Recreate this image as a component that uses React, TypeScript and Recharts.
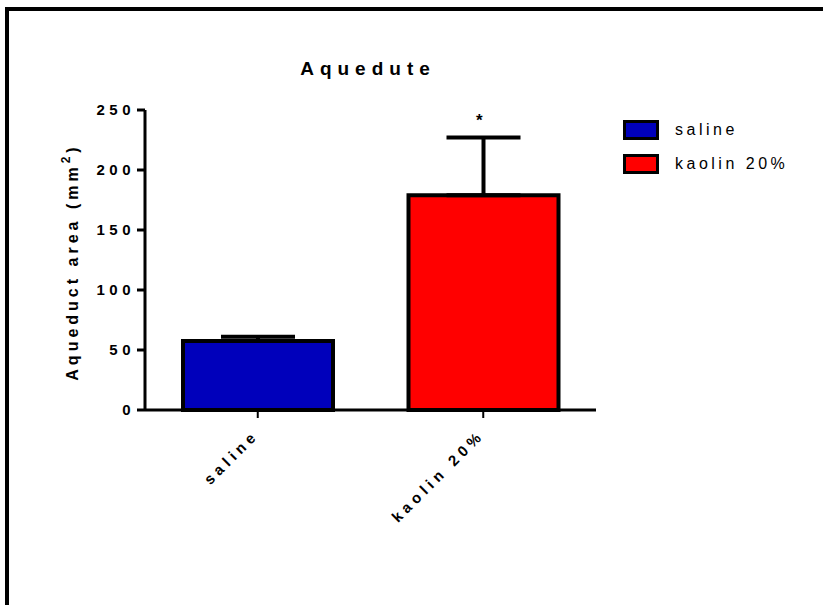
import React from 'react';
import { BarChart, Bar, XAxis, YAxis, Cell, ErrorBar, Legend, ReferenceDot } from 'recharts';

const categories = ['saline', 'kaolin 20%'];
const means = [57.5, 179];
const sems = [3.5, 48];
const significance = ['', '*'];
const colors = ['#0000BB', '#FF0000'];
const yTicks = [0, 50, 100, 150, 200, 250];
const title = 'Aquedute';

const data = categories.map((c, i) => ({
  name: c,
  value: means[i],
  err: [0, sems[i]],
  top: means[i] + sems[i],
  sig: significance[i],
}));

const FONT = 'Liberation Sans, Arial, sans-serif';

const YTick = (props: any) => {
  const { x, y, payload } = props;
  return (
    <text x={x} y={y} dy={5} textAnchor="end" fontFamily={FONT} fontWeight="bold" fontSize={15} letterSpacing={4.5} fill="#000">
      {payload.value}
    </text>
  );
};

const XTick = (props: any) => {
  const { x, y, payload } = props;
  const ax = x + 2;
  const ay = y + 16;
  return (
    <text
      x={ax}
      y={ay}
      textAnchor="end"
      fontFamily={FONT}
      fontWeight="bold"
      fontSize={15}
      letterSpacing={4.6}
      fill="#000"
      transform={`rotate(-45 ${ax} ${ay})`}
    >
      {payload.value}
    </text>
  );
};

const LegendContent = () => (
  <div style={{ fontFamily: FONT, fontSize: 16, letterSpacing: 3.5, color: '#000' }}>
    {categories.map((c, i) => (
      <div key={c} style={{ display: 'flex', alignItems: 'center', height: 34 }}>
        <div style={{ width: 30, height: 14, background: colors[i], border: '3px solid #000', marginRight: 16 }} />
        <span>{c}</span>
      </div>
    ))}
  </div>
);

const StarShape = (props: any) => {
  const { cx, cy } = props;
  return (
    <text x={cx - 4} y={cy - 12} textAnchor="middle" fontFamily={FONT} fontSize={17} fontWeight="bold" fill="#000">
      *
    </text>
  );
};

export default function App() {
  return (
    <div style={{ position: 'absolute', left: 0, top: 0, width: 823, height: 605, overflow: 'hidden', background: '#fff' }}>
      <div
        style={{
          position: 'absolute',
          left: 5,
          top: 7,
          width: 900,
          height: 700,
          borderLeft: '4px solid #000',
          borderTop: '4px solid #000',
        }}
      />
      <div style={{ position: 'absolute', left: 0, top: 0 }}>
        <BarChart width={823} height={605} data={data} margin={{ top: 110, right: 227, bottom: 95, left: 85 }}>
          <text x={368} y={75} textAnchor="middle" fontFamily={FONT} fontWeight="bold" fontSize={19} letterSpacing={6} fill="#000">
            {title}
          </text>
          <text
            x={78}
            y={262}
            textAnchor="middle"
            fontFamily={FONT}
            fontWeight="bold"
            fontSize={16}
            letterSpacing={4}
            fill="#000"
            transform="rotate(-90 78 262)"
          >
            Aqueduct area (mm<tspan dy={-8} fontSize={12}>2</tspan><tspan dy={8}>)</tspan>
          </text>
          <XAxis
            dataKey="name"
            axisLine={{ stroke: '#000', strokeWidth: 3 }}
            tickLine={{ stroke: '#000', strokeWidth: 2 }}
            tickSize={8}
            tick={<XTick />}
            height={100}
            interval={0}
          />
          <YAxis
            domain={[0, 250]}
            ticks={yTicks}
            axisLine={{ stroke: '#000', strokeWidth: 3 }}
            tickLine={{ stroke: '#000', strokeWidth: 3 }}
            tickSize={8}
            tick={<YTick />}
            width={60}
            interval={0}
          />
          <Legend
            layout="vertical"
            align="center"
            verticalAlign="middle"
            content={<LegendContent />}
            wrapperStyle={{ position: 'absolute', left: 623, top: 113, width: 200 }}
          />
          <Bar dataKey="value" barSize={150} stroke="#000" strokeWidth={4} isAnimationActive={false}>
            {data.map((d, i) => (
              <Cell key={d.name} fill={colors[i]} />
            ))}
            <ErrorBar dataKey="err" width={37} stroke="#000" strokeWidth={4} direction="y" />
          </Bar>
          {data
            .filter((d) => d.sig)
            .map((d) => (
              <ReferenceDot key={d.name} x={d.name} y={d.top} r={0} shape={<StarShape />} ifOverflow="visible" />
            ))}
        </BarChart>
      </div>
    </div>
  );
}
